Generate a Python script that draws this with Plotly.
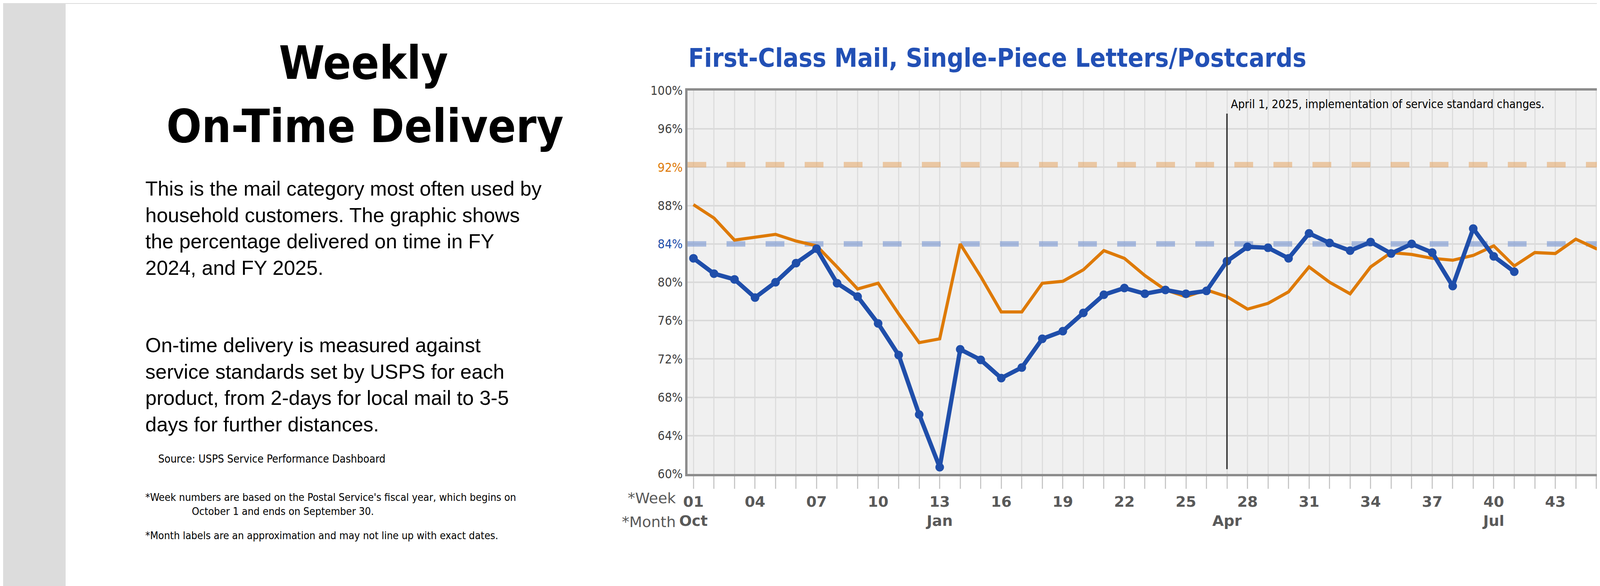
import plotly.graph_objects as go

weeks = list(range(1, 53))
fy2024 = [88.1, 86.7, 84.4, 84.7, 85.0, 84.3, 83.8, 81.6, 79.3, 79.9, 76.7, 73.7, 74.1, 84.0, 80.6, 76.9,
          76.9, 79.9, 80.1, 81.3, 83.3, 82.5, 80.7, 79.2, 78.5, 79.2, 78.5, 77.2, 77.8, 79.0, 81.6, 80.0,
          78.8, 81.6, 83.1, 82.9, 82.5, 82.3, 82.8, 83.8, 81.7, 83.1, 83.0, 84.5, 83.5, 84.4, 84.4, 84.1,
          84.5, 82.6, 82.9, 83.2]
fy2025 = [82.5, 80.9, 80.3, 78.4, 80.0, 82.0, 83.5, 79.9, 78.5, 75.7, 72.4, 66.2, 60.7, 73.0, 71.9, 70.0,
          71.1, 74.1, 74.9, 76.8, 78.7, 79.4, 78.8, 79.2, 78.8, 79.1, 82.2, 83.7, 83.6, 82.5, 85.1, 84.1,
          83.3, 84.2, 83.0, 84.0, 83.1, 79.6, 85.6, 82.7, 81.1]
target_2024 = 92.27
target_2025 = 84.00
change_week = 27
month_labels = {1: "Oct", 13: "Jan", 27: "Apr", 40: "Jul", 52: "Sep"}
yticks = list(range(60, 101, 4))

ORANGE = "#DE7A06"
BLUE = "#1F4EAA"
NARROW = "'Liberation Sans Narrow', 'DejaVu Sans Condensed', 'Liberation Sans', sans-serif"

W, H = 4801, 1501
L, R, T, B = 1752, 4480, 224, 1206
def px(x): return (x - L) / (R - L)
def py(y): return (B - y) / (B - T)

ticktext = []
for w in weeks:
    wl = f"{w:02d}" if (w - 1) % 3 == 0 else ""
    ml = month_labels.get(w, "")
    ticktext.append(f"{wl}<br>{ml}" if (wl or ml) else "")

ytext = []
for v in yticks:
    if v == 92:
        ytext.append(f"<span style='color:{ORANGE}'>{v}%</span>")
    elif v == 84:
        ytext.append(f"<span style='color:{BLUE}'>{v}%</span>")
    else:
        ytext.append(f"{v}%")

fig = go.Figure()
fig.add_trace(go.Scatter(x=[0.71, 52.64], y=[target_2024]*2, mode="lines", showlegend=False,
                         line=dict(color="rgba(230,165,100,0.55)", width=14, dash="48px,52px"), hoverinfo="skip"))
fig.add_trace(go.Scatter(x=[0.71, 52.64], y=[target_2025]*2, mode="lines", showlegend=False,
                         line=dict(color="rgba(120,150,210,0.6)", width=14, dash="48px,52px"), hoverinfo="skip"))
fig.add_trace(go.Scatter(x=weeks, y=fy2024, mode="lines", name="FY 2024",
                         line=dict(color=ORANGE, width=8)))
fig.add_trace(go.Scatter(x=weeks[:len(fy2025)], y=fy2025, mode="lines+markers", name="FY 2025",
                         line=dict(color=BLUE, width=11), marker=dict(size=22, color=BLUE)))

shapes = [
    dict(type="rect", xref="paper", yref="paper", x0=px(160), x1=px(4657), y0=py(1499), y1=py(2),
         fillcolor="white", line_width=0, layer="below"),
    dict(type="rect", xref="paper", yref="paper", x0=0, x1=1, y0=0, y1=1,
         fillcolor="#F0F0F0", line_width=0, layer="below"),
    dict(type="line", x0=change_week, x1=change_week, y0=60.5, y1=97.6, line=dict(color="#404040", width=4)),
]

ann = []
def A(x, y, text, size, family=NARROW, color="black", xanchor="left", yanchor="middle", align="left", **kw):
    ann.append(dict(xref="paper", yref="paper", x=px(x), y=py(y), text=text, showarrow=False,
                    font=dict(size=size, family=family, color=color), xanchor=xanchor, yanchor=yanchor,
                    align=align, **kw))

A(922, 153, "<b>Weekly</b>", 118, xanchor="center")
A(926, 315, "<b>On-Time Delivery</b>", 118, xanchor="center")
A(362, 576, "This is the mail category most often used by<br>household customers. The graphic shows<br>"
     "the percentage delivered on time in FY<br>2024, and FY 2025.", 52, family="Liberation Sans")
A(362, 977, "On-time delivery is measured against<br>service standards set by USPS for each<br>"
     "product, from 2-days for local mail to 3-5<br>days for further distances.", 52, family="Liberation Sans")
A(395, 1167, "Source: USPS Service Performance Dashboard", 28)
A(362, 1265, "*Week numbers are based on the Postal Service's fiscal year, which begins on", 27)
A(481, 1301, "October 1 and ends on September 30.", 27)
A(362, 1363, "*Month labels are an approximation and may not line up with exact dates.", 27)
A(1752, 141, "<b>First-Class Mail, Single-Piece Letters/Postcards</b>", 66, color="#2250B5")
A(1724, 1268, "*Week", 38, family="DejaVu Sans", color="#595959", xanchor="right")
A(1724, 1329, "*Month", 38, family="DejaVu Sans", color="#595959", xanchor="right")

ann.append(dict(x=change_week, y=98.6, xref="x", yref="y", text="April 1, 2025, implementation of service standard changes.",
                showarrow=False, xanchor="left", yanchor="middle", xshift=8,
                font=dict(size=30, family=NARROW, color="black")))
ann.append(dict(x=1, y=target_2024, xref="paper", yref="y", text="FY 2024 Target: 92.27%", showarrow=False,
                xanchor="right", yanchor="bottom", xshift=-8, yshift=12, font=dict(size=32, family=NARROW, color=ORANGE)))
ann.append(dict(x=1, y=target_2025, xref="paper", yref="y", text="FY 2025 Target: 84.00%", showarrow=False,
                xanchor="right", yanchor="bottom", xshift=-8, yshift=12, font=dict(size=32, family=NARROW, color=BLUE)))

fig.update_layout(
    width=W, height=H, paper_bgcolor="#DCDCDC", plot_bgcolor="rgba(0,0,0,0)",
    margin=dict(l=L, r=W - R, t=T, b=H - B, pad=0),
    shapes=shapes, annotations=ann,
    legend=dict(x=px(4180), y=py(905), xanchor="left", yanchor="top", bgcolor="#F0F0F0",
                font=dict(size=34, family=NARROW, color="black"), itemwidth=90, tracegroupgap=20),
    xaxis=dict(range=[0.71, 52.64], tickvals=weeks, ticktext=ticktext, tickangle=0, showgrid=True, gridcolor="#DDDDDD",
               gridwidth=3, ticks="outside", ticklen=32, tickcolor="#C8C8C8", tickwidth=3,
               tickfont=dict(size=38, family="DejaVu Sans", color="#595959", weight="bold"),
               showline=True, linecolor="#8C8C8C", linewidth=6, mirror=True, zeroline=False),
    yaxis=dict(range=[60, 100], tickvals=yticks, ticktext=ytext, showgrid=True, gridcolor="#DADADA",
               gridwidth=4, tickfont=dict(size=32, family=NARROW, color="#404040"), ticks="",
               showline=True, linecolor="#8C8C8C", linewidth=6, mirror=True, zeroline=False),
)
fig.write_html("out.html")
